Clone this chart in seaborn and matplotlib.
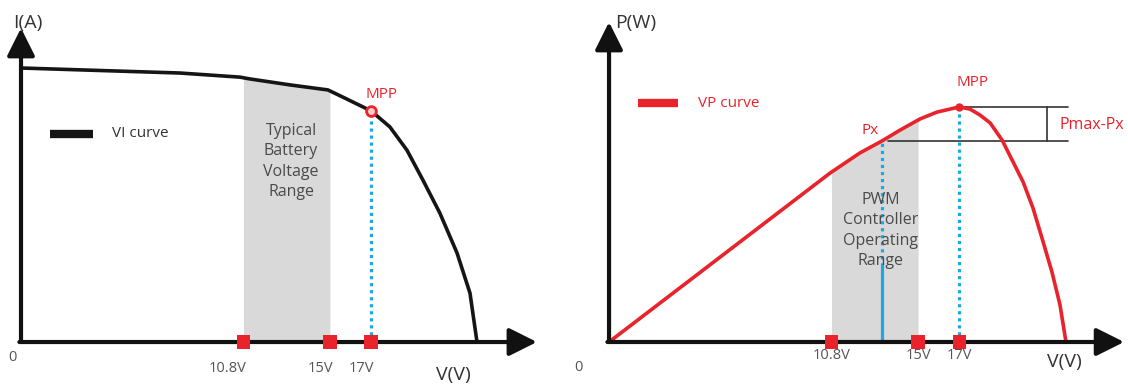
import numpy as np
import pandas as pd
import seaborn as sns
import matplotlib.pyplot as plt

# VI curve of the panel (voltage V, current A)
vi_volts = [0, 7.72, 10.63, 11.12, 13.06, 14.90, 15.73, 17.0, 17.91, 18.74, 19.51, 20.34, 21.17, 21.80, 22.14]
vi_amps = [6.0, 5.89, 5.80, 5.76, 5.63, 5.52, 5.34, 5.06, 4.71, 4.20, 3.55, 2.82, 1.95, 1.07, 0.0]

# VP curve (voltage V, power W)
vp_volts = [0, 10.73, 12.18, 13.25, 14.13, 15.10, 15.92, 17.0, 17.52, 18.01, 18.50,
            19.08, 19.61, 20.10, 20.58, 21.07, 21.50, 21.89, 22.18]
vp_watts = [0, 62.1, 69.5, 73.9, 77.9, 82.0, 84.5, 86.4, 85.6, 83.4, 80.5,
            74.2, 66.2, 58.8, 49.2, 36.8, 25.7, 13.6, 0.0]

marker_volts = [10.8, 15, 17]
marker_labels = ['10.8V', '15V', '17V']
band_lo, band_hi = 10.8, 15
mpp_volt = 17
px_volt = 13.25

red = '#e8232b'
blue = '#1ea7e6'
gray_txt = '#4a4a4a'

sns.set_theme(style='white')
plt.rcParams['font.family'] = ['Open Sans', 'DejaVu Sans']

fig = plt.figure(figsize=(11.28, 3.87), dpi=100)
axL = fig.add_axes([0, 0, 560 / 1128, 1])
axR = fig.add_axes([560 / 1128, 0, 568 / 1128, 1])


def arrow_axes(ax, xtip, ytip):
    style = '-|>,head_length=1.7,head_width=0.85'
    kw = dict(arrowstyle=style, lw=3, color='#111111', shrinkA=0, shrinkB=0, mutation_scale=10)
    ax.annotate('', xy=(xtip, 0), xytext=(-0.08, 0), arrowprops=kw, zorder=4)
    ax.annotate('', xy=(0, ytip), xytext=(0, 0), arrowprops=kw, zorder=4)


def squares(ax):
    sns.scatterplot(x=marker_volts, y=[0] * len(marker_volts), ax=ax, marker='s', s=95,
                    color=red, edgecolor='none', zorder=6, legend=False)


# ---------------- left: VI curve ----------------
vb = np.linspace(band_lo, band_hi, 60)
axL.fill_between(vb, 0, np.interp(vb, vi_volts, vi_amps), color='#d9d9d9', lw=0, zorder=1)
sns.lineplot(x=vi_volts, y=vi_amps, ax=axL, color='#151515', lw=2.6, sort=False, zorder=3,
             solid_joinstyle='round')
mpp_i = np.interp(mpp_volt, vi_volts, vi_amps)
axL.plot([mpp_volt, mpp_volt], [0, mpp_i], color=blue, lw=2.3, ls=(0, (1, 1.2)), zorder=2)
axL.plot([mpp_volt], [mpp_i], marker='o', ms=7, mfc='#ffd0d0', mec=red, mew=2, zorder=5)
squares(axL)
arrow_axes(axL, 25.05, 6.875)

axL.plot([1.41, 3.5], [4.55, 4.55], color='#151515', lw=6, solid_capstyle='butt')
axL.text(4.42, 4.57, 'VI curve', fontsize=11, color='#333333', va='center', ha='left')
axL.text(17.52, 5.43, 'MPP', fontsize=11, color=red, va='center', ha='center')
axL.text(13.11, 3.95, 'Typical\nBattery\nVoltage\nRange', fontsize=11.5, color=gray_txt,
         ha='center', va='center', linespacing=1.38)
for v, lab in zip(marker_volts, marker_labels):
    axL.text(v + 0.15, -0.57, lab, fontsize=10.5, color='#555555', ha='right', va='center')
axL.text(-0.44, -0.33, '0', fontsize=10.5, color='#555555', ha='center', va='center')
axL.text(20.97, -0.72, 'V(V)', fontsize=14, color='#333333', ha='center', va='center')
axL.text(0.34, 6.98, 'I(A)', fontsize=14, color='#333333', ha='center', va='center', zorder=1)

axL.set_xlim(-1.02, 26.17)
axL.set_ylim(-0.985, 7.489)
axL.set_axis_off()

# ---------------- right: VP curve ----------------
axR.fill_between(vb, 0, np.interp(vb, vp_volts, vp_watts), color='#d9d9d9', lw=0, zorder=1)
sns.lineplot(x=vp_volts, y=vp_watts, ax=axR, color=red, lw=2.6, sort=False, zorder=3,
             solid_joinstyle='round')
mpp_p = np.interp(mpp_volt, vp_volts, vp_watts)
px_p = np.interp(px_volt, vp_volts, vp_watts)
axR.plot([mpp_volt, mpp_volt], [0, mpp_p], color=blue, lw=2.3, ls=(0, (1, 1.2)), zorder=2)
axR.plot([px_volt, px_volt], [28, px_p], color=blue, lw=2.3, ls=(0, (1, 1.2)), zorder=2)
axR.plot([px_volt, px_volt], [0, 28], color=blue, lw=2.3, zorder=2)
axR.plot([mpp_volt], [mpp_p], marker='o', ms=5, color=red, zorder=5)
squares(axR)
arrow_axes(axR, 25.0, 117.6)

# Pmax - Px bracket
axR.plot([mpp_volt, 22.28], [mpp_p, mpp_p], color='#333333', lw=1.2, zorder=2)
axR.plot([px_volt + 0.3, 22.28], [px_p, px_p], color='#333333', lw=1.2, zorder=2)
axR.plot([21.26, 21.26], [px_p, mpp_p], color='#333333', lw=1.2, zorder=2)

axR.plot([1.41, 3.35], [87.8, 87.8], color=red, lw=6, solid_capstyle='butt')
axR.text(4.32, 87.8, 'VP curve', fontsize=11, color=red, va='center', ha='left')
axR.text(17.62, 95.2, 'MPP', fontsize=11, color=red, va='center', ha='center')
axR.text(12.67, 77.9, 'Px', fontsize=11, color=red, va='center', ha='center')
axR.text(23.45, 79.7, 'Pmax-Px', fontsize=11.5, color=red, va='center', ha='center')
axR.text(13.2, 41.0, 'PWM\nController\nOperating\nRange', fontsize=11.5, color=gray_txt,
         ha='center', va='center', linespacing=1.38)
for v, lab in zip(marker_volts, marker_labels):
    axR.text(v, -4.8, lab, fontsize=10.5, color='#555555', ha='center', va='center')
axR.text(-1.5, -9.2, '0', fontsize=10.5, color='#555555', ha='center', va='center')
axR.text(22.09, -7.35, 'V(V)', fontsize=14, color='#333333', ha='center', va='center')
axR.text(1.31, 117.2, 'P(W)', fontsize=14, color='#333333', ha='center', va='center', zorder=1)

axR.set_xlim(-2.38, 25.19)
axR.set_ylim(-16.54, 125.7)
axR.set_axis_off()

fig.savefig('out.png', dpi=100)
